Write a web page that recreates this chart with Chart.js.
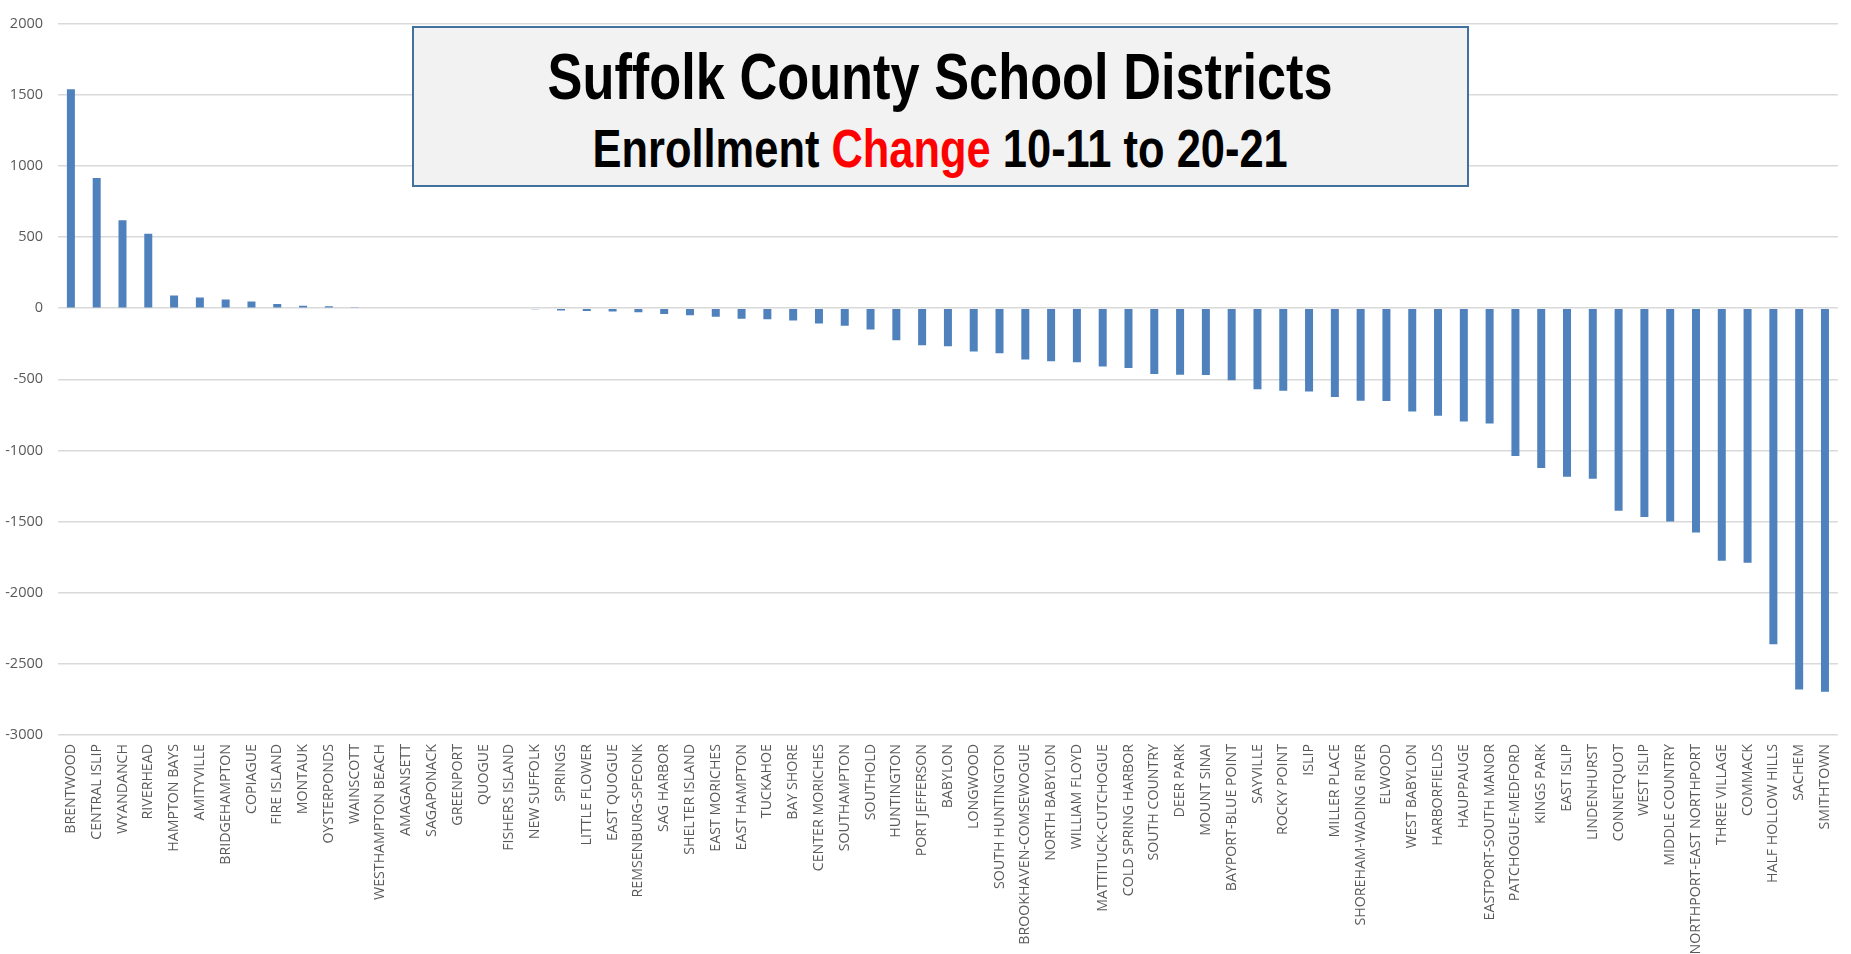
<!DOCTYPE html>
<html>
<head>
<meta charset="utf-8">
<script src="https://cdn.jsdelivr.net/npm/chart.js@4.4.1/dist/chart.umd.min.js"></script>
<style>
  html, body { margin: 0; padding: 0; background: #fff; }
  #wrap { position: relative; width: 1851px; height: 954px; }
  #chart { position: absolute; left: 0; top: 0; }
  #titleBox {
    position: absolute; left: 412px; top: 26px; width: 1053px; height: 157px;
    background: #f2f2f2; border: 2px solid #41719c;
  }
  .tline {
    position: absolute; left: 412px; width: 1057px; text-align: center;
    font-family: "Liberation Sans Narrow", "Arial Narrow", "Liberation Sans", Arial, sans-serif;
    font-weight: bold; color: #000; white-space: nowrap;
  }
  .tline span { display: inline-block; transform-origin: 50% 50%; }
  #t1 { top: 45px; font-size: 64px; line-height: 64px; }
  #t2 { top: 122px; font-size: 53px; line-height: 53px; }
  .red { color: #ff0000; }
</style>
</head>
<body>
<div id="wrap">
  <canvas id="chart" width="1851" height="954"></canvas>
  <div id="titleBox"></div>
  <div class="tline" id="t1"><span>Suffolk County School Districts</span></div>
  <div class="tline" id="t2"><span>Enrollment <b class="red">Change</b> 10-11 to 20-21</span></div>
</div>
<script>
// districts, sorted by enrollment change
const districts = [
  "BRENTWOOD", "CENTRAL ISLIP", "WYANDANCH", "RIVERHEAD", "HAMPTON BAYS",
  "AMITYVILLE", "BRIDGEHAMPTON", "COPIAGUE", "FIRE ISLAND", "MONTAUK",
  "OYSTERPONDS", "WAINSCOTT", "WESTHAMPTON BEACH", "AMAGANSETT", "SAGAPONACK",
  "GREENPORT", "QUOGUE", "FISHERS ISLAND", "NEW SUFFOLK", "SPRINGS",
  "LITTLE FLOWER", "EAST QUOGUE", "REMSENBURG-SPEONK", "SAG HARBOR", "SHELTER ISLAND",
  "EAST MORICHES", "EAST HAMPTON", "TUCKAHOE", "BAY SHORE", "CENTER MORICHES",
  "SOUTHAMPTON", "SOUTHOLD", "HUNTINGTON", "PORT JEFFERSON", "BABYLON",
  "LONGWOOD", "SOUTH HUNTINGTON", "BROOKHAVEN-COMSEWOGUE", "NORTH BABYLON", "WILLIAM FLOYD",
  "MATTITUCK-CUTCHOGUE", "COLD SPRING HARBOR", "SOUTH COUNTRY", "DEER PARK", "MOUNT SINAI",
  "BAYPORT-BLUE POINT", "SAYVILLE", "ROCKY POINT", "ISLIP", "MILLER PLACE",
  "SHOREHAM-WADING RIVER", "ELWOOD", "WEST BABYLON", "HARBORFIELDS", "HAUPPAUGE",
  "EASTPORT-SOUTH MANOR", "PATCHOGUE-MEDFORD", "KINGS PARK", "EAST ISLIP", "LINDENHURST",
  "CONNETQUOT", "WEST ISLIP", "MIDDLE COUNTRY", "NORTHPORT-EAST NORTHPORT", "THREE VILLAGE",
  "COMMACK", "HALF HOLLOW HILLS", "SACHEM", "SMITHTOWN"
];

const enrollmentChange = [
  1540, 915, 618, 524, 90,
  76, 62, 48, 30, 18,
  13, 7, 5, 0, 0,
  0, 0, -6, -8, -16,
  -20, -23, -28, -40, -49,
  -60, -74, -77, -86, -107,
  -123, -149, -226, -260, -267,
  -305, -316, -360, -372, -379,
  -409, -421, -463, -467, -470,
  -507, -569, -581, -585, -624,
  -650, -652, -726, -756, -797,
  -811, -1039, -1124, -1184, -1198,
  -1424, -1468, -1500, -1576, -1776,
  -1790, -2362, -2680, -2696
];

const yMin = -3000;
const yMax = 2000;
const yStep = 500;

const fontFamily = "'Open Sans', 'Noto Sans', sans-serif";

new Chart(document.getElementById('chart'), {
  type: 'bar',
  data: {
    labels: districts,
    datasets: [{
      data: enrollmentChange,
      backgroundColor: '#4f81bd',
      borderWidth: 0,
      barPercentage: 0.31,
      categoryPercentage: 1.0
    }]
  },
  options: {
    responsive: false,
    animation: false,
    devicePixelRatio: 1,
    layout: { padding: { top: 10, right: 0, left: 0, bottom: 0 } },
    plugins: {
      legend: { display: false },
      tooltip: { enabled: false },
      title: { display: false }
    },
    scales: {
      x: {
        grid: { display: false, drawTicks: false },
        border: { display: false },
        ticks: {
          autoSkip: false,
          minRotation: 90,
          maxRotation: 90,
          padding: 9,
          color: '#595959',
          font: { family: fontFamily, size: 14.2 }
        },
        afterFit: (scale) => { scale.height = 219; }
      },
      y: {
        min: yMin,
        max: yMax,
        grid: { color: '#d9d9d9', lineWidth: 1.5, drawTicks: false },
        border: { display: false },
        ticks: {
          stepSize: yStep,
          padding: 15,
          color: '#595959',
          font: { family: fontFamily, size: 14.5 },
          callback: (v) => String(v)
        },
        afterFit: (scale) => { scale.width = 58; }
      }
    }
  }
});

// squeeze the title lines to the widths of the original
function fitLine(id, target) {
  const s = document.querySelector('#' + id + ' span');
  const w = s.offsetWidth;
  if (w > 0) s.style.transform = 'scaleX(' + (target / w) + ')';
}
fitLine('t1', 785);
fitLine('t2', 695);
</script>
</body>
</html>
